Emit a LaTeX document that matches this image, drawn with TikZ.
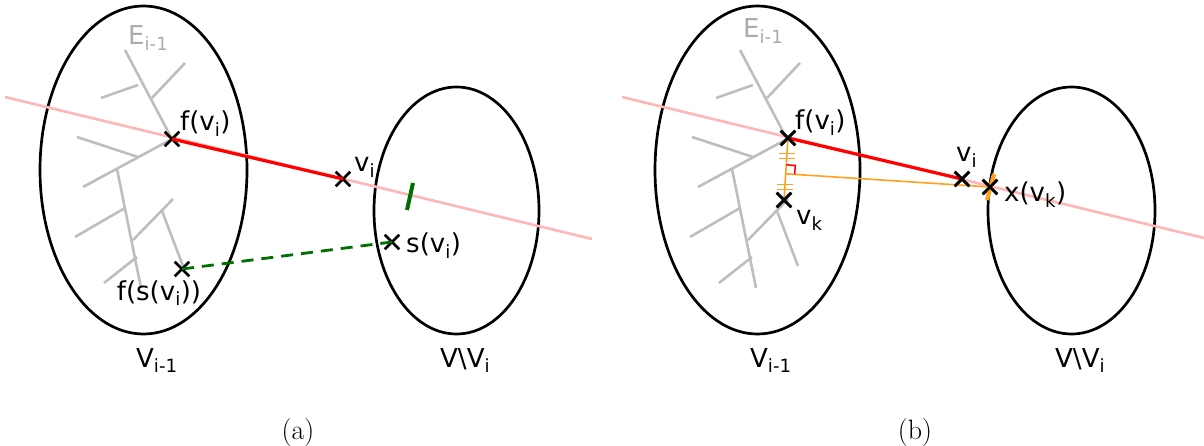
\documentclass[tikz,border=0pt]{standalone}
\usepackage{fontspec}
\usepackage{tikz}
\usetikzlibrary{calc,shapes.misc}
\newfontfamily\lblfont{DejaVu Sans}
\definecolor{pinkline}{RGB}{255,182,182}
\definecolor{treegray}{RGB}{190,190,190}
\definecolor{darkgreen}{RGB}{0,110,0}
\definecolor{orangeline}{RGB}{255,160,30}

\tikzset{
	setline/.style={line width=2.7pt},
	treeline/.style={treegray, line width=2.6pt},
	xmark/.style={draw, cross out, line width=2.6pt, minimum size=12pt, inner sep=0pt},
	lbl/.style={font=\lblfont\fontsize{26}{30}\selectfont, inner sep=0pt},
	tree/.pic={
		\draw [treeline] (125,50) -- (172,139);
		\draw [treeline] (101,98) -- (138,85);
		\draw [treeline] (185,63) -- (152,98);
		\draw [treeline] (172,139) -- (83,187);
		\draw [treeline] (77,137) -- (138,157);
		\draw [treeline] (117,169) -- (141,288);
		\draw [treeline] (75,237) -- (125,208);
		\draw [treeline] (104,283) -- (137,257);
		\draw [treeline] (173,199) -- (133,240);
		\draw [treeline] (162,211) -- (183,266);
	}
}

\begin{document}
\begin{tikzpicture}[x=1pt, y=-1pt]
	\useasboundingbox (0,0) rectangle (1204,446);

	% (a)
	\pic at (0,0) {tree};
	\node [lbl, anchor=base west, text=treegray!90!black] at (128,45) {E\textsubscript{i-1}};
	\draw [setline] (143.5,170) ellipse [x radius=103.5, y radius=164];
	\draw [setline] (456.5,210.5) ellipse [x radius=82.5, y radius=123.5];
	\coordinate (pa1) at (5,97);
	\coordinate (pa2) at (592,239);
	\draw [pinkline, line width=2.6pt] (pa1) -- (pa2);
	\coordinate (cut) at (410,196.5);
	\draw [darkgreen, line width=4pt] ($(cut)+(3,-13.5)$) -- ($(cut)+(-3,13.5)$);
	\node [xmark] (fa) at (172,139) {};
	\node [xmark] (va) at (343,179) {};
	\node [xmark] (sa) at (392,242) {};
	\node [xmark] (fsa) at (182,269) {};
	\draw [red, line width=3.2pt] (fa.center) -- (va.center);
	\draw [darkgreen, line width=2.8pt, dash pattern=on 12pt off 8pt] (fsa.center) -- (sa.center);
	\node [lbl, anchor=base west] at (180,131) {f(v\textsubscript{i})};
	\node [lbl, anchor=base west] at (354,172) {v\textsubscript{i}};
	\node [lbl, anchor=base west] at (406,253) {s(v\textsubscript{i})};
	\node [lbl, anchor=base] at (159,300) {f(s(v\textsubscript{i}))};
	\node [lbl, anchor=base west] at (136,367) {V\textsubscript{i-1}};
	\node [lbl, anchor=base west] at (440,367) {V\textbackslash V\textsubscript{i}};
	\node [anchor=base, font=\fontsize{28}{32}\selectfont] at (298,439) {(a)};

	% (b)
	\pic at (615,0) {tree};
	\node [lbl, anchor=base west, text=treegray!90!black] at (743,38) {E\textsubscript{i-1}};
	\draw [setline] (757.5,170) ellipse [x radius=102.5, y radius=164];
	\draw [setline] (1071.5,210.5) ellipse [x radius=83.5, y radius=123.5];
	\coordinate (pb1) at (622,97);
	\coordinate (pb2) at (1204,238);
	\draw [pinkline, line width=2.6pt] (pb1) -- (pb2);
	\node [xmark] (fb) at (788,138) {};
	\node [xmark] (vb) at (962,179) {};
	\node [xmark] (vk) at (784,200) {};
	\node [xmark] (xb) at (990,187) {};
	\draw [orangeline, line width=4.2pt] ($(xb)+(4,-13)$) -- ($(xb)+(-3,13)$);
	\coordinate (foot) at ($(fb)!(xb)!(vk)$);
	\draw [orangeline, line width=1.6pt] (fb.center) -- (vk.center);
	\draw [orangeline, line width=1.6pt] (foot) -- (xb.center);
	\draw [red, line width=3.2pt] (fb.center) -- (vb.center);
	\coordinate (m1) at ($(fb)!0.5!(foot)$);
	\coordinate (m2) at ($(foot)!0.5!(vk)$);
	\foreach \m in {m1,m2}
		\foreach \d in {-2.5,2.5}
			\draw [orangeline, line width=1.6pt] ($(\m)+(-8,\d)$) -- ++(16,0);
	\coordinate (ra1) at ($(foot)!9pt!(fb)$);
	\coordinate (ra2) at ($(foot)!9pt!(xb)$);
	\draw [red, line width=1.5pt] (ra1) -- ($(ra1)+(ra2)-(foot)$) -- (ra2);
	\node [xmark] at (fb) {};
	\node [xmark] at (vk) {};
	\node [xmark] at (vb) {};
	\node [xmark] at (xb) {};
	\node [lbl, anchor=base west] at (795,130) {f(v\textsubscript{i})};
	\node [lbl, anchor=base west] at (956,162) {v\textsubscript{i}};
	\node [lbl, anchor=base west] at (796,225) {v\textsubscript{k}};
	\node [lbl, anchor=base west] at (1004,202) {x(v\textsubscript{k})};
	\node [lbl, anchor=base west] at (750,367) {V\textsubscript{i-1}};
	\node [lbl, anchor=base west] at (1055,367) {V\textbackslash V\textsubscript{i}};
	\node [anchor=base, font=\fontsize{28}{32}\selectfont] at (915,439) {(b)};
\end{tikzpicture}
\end{document}
